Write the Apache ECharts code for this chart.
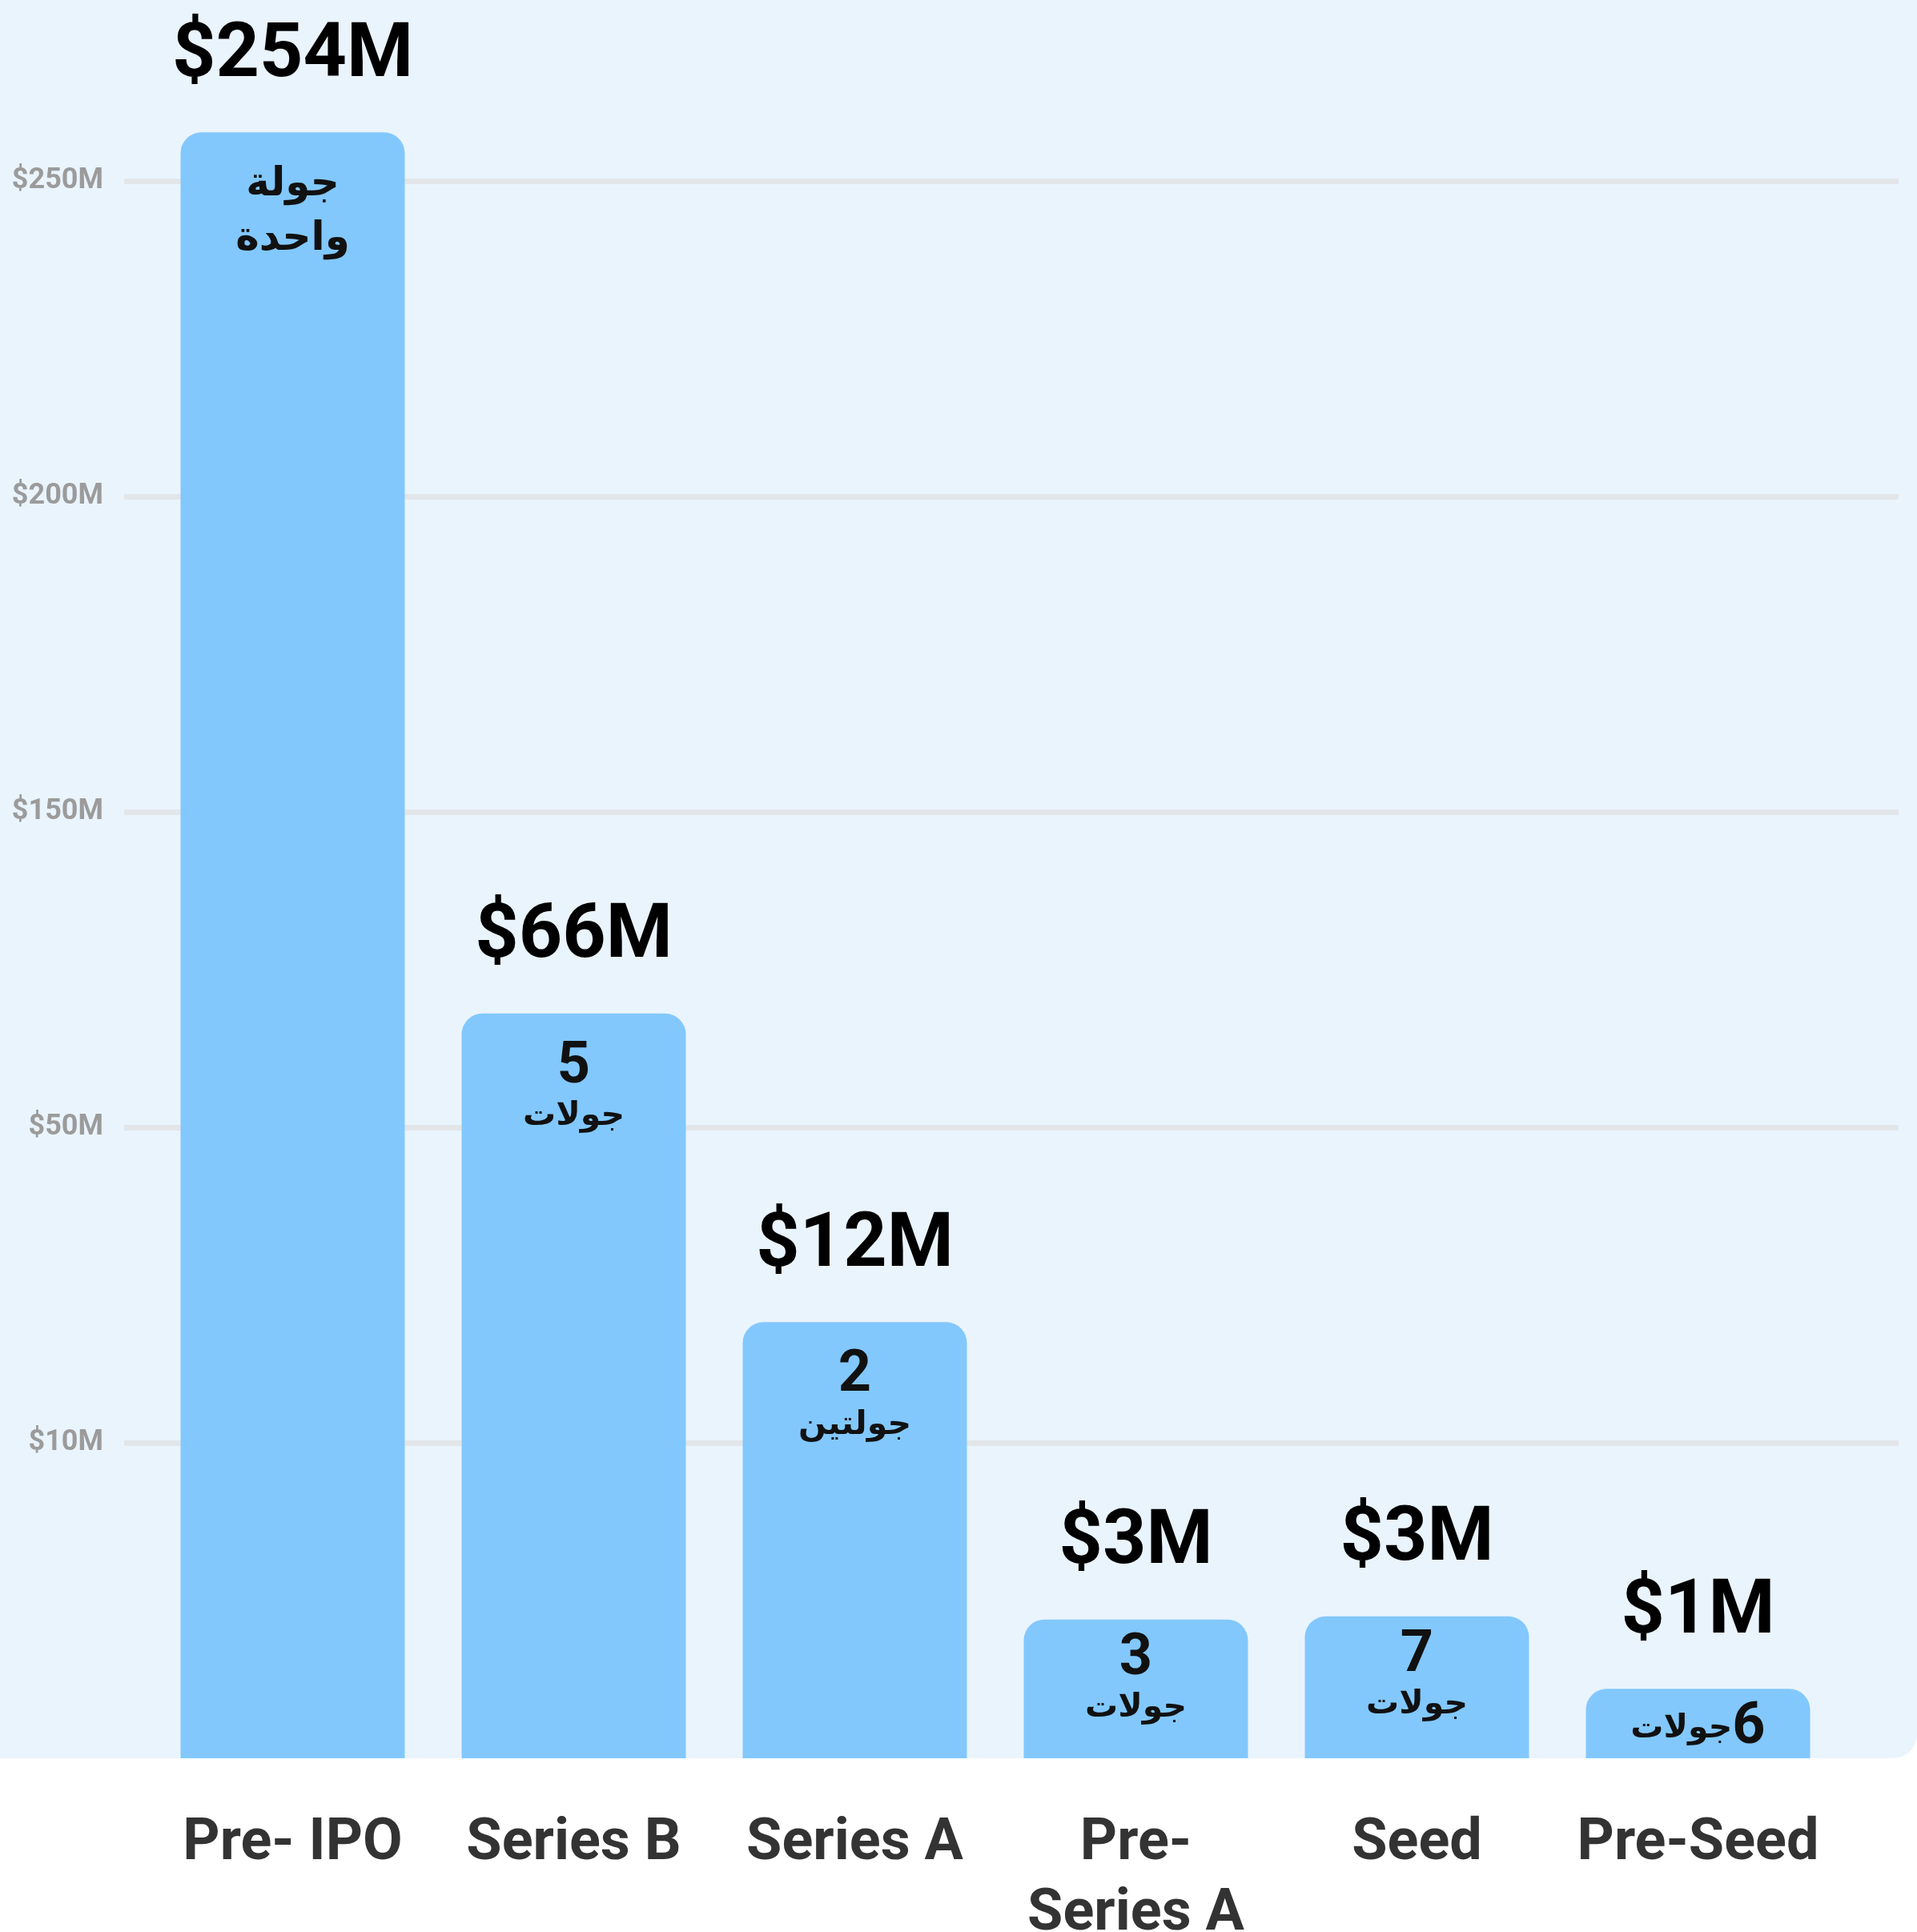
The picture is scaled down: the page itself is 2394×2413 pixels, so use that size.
<!DOCTYPE html>
<html>
<head>
<meta charset="utf-8">
<script src="https://cdn.jsdelivr.net/npm/echarts@6/dist/echarts.min.js"></script>
<style>
  html, body { margin: 0; padding: 0; background: #fff; }
  #chart { width: 2394px; height: 2413px; }
</style>
</head>
<body>
<div id="chart"></div>
<script>
// categories (funding stage)
var stages = ['Pre- IPO', 'Series B', 'Series A', 'Pre-\nSeries A', 'Seed', 'Pre-Seed'];
// amount printed above each bar ($M)
var amounts = [254, 66, 12, 3, 3, 1];
// bar height read against the axis ($M)
var barValues = [257.7, 86.1, 25.3, 4.4, 4.5, 2.2];
// number of rounds and the word under it
var roundCounts = [1, 5, 2, 3, 7, 6];
var roundWords = ['جولة واحدة', 'جولات', 'جولتين', 'جولات', 'جولات', 'جولات'];
// axis ticks ($M), evenly spaced on the chart
var yTicks = [0, 10, 50, 150, 200, 250];

// piecewise scale: each tick is one step up the axis
function toLevel(v) {
  for (var i = 1; i < yTicks.length; i++) {
    if (v <= yTicks[i] || i === yTicks.length - 1) {
      return (i - 1) + (v - yTicks[i - 1]) / (yTicks[i] - yTicks[i - 1]);
    }
  }
}

var levels = barValues.map(toLevel);
var latin = 'Roboto, "DejaVu Sans", sans-serif';
var arabic = '"DejaVu Sans", sans-serif';

var chart = echarts.init(document.getElementById('chart'), null, { renderer: 'canvas' });

var option = {
  backgroundColor: '#ffffff',
  animation: false,
  textStyle: { fontFamily: latin },
  graphic: [{
    type: 'rect',
    z: -1,
    silent: true,
    shape: { x: 0, y: 0, width: 2394, height: 2196, r: [0, 0, 30, 0] },
    style: { fill: '#EAF4FD' }
  }],
  grid: [
    // gridlines + y labels
    { left: 155, right: 23, top: 29, bottom: 217, containLabel: false, outerBoundsMode: 'none' },
    // bars
    { left: 190, right: 98, top: 29, bottom: 217, containLabel: false, outerBoundsMode: 'none' }
  ],
  xAxis: [
    { type: 'value', gridIndex: 0, min: 0, max: 1, show: false },
    {
      type: 'category', gridIndex: 1, data: stages,
      axisLine: { show: false }, axisTick: { show: false },
      axisLabel: {
        interval: 0, margin: 64, fontSize: 72, fontWeight: 'bold',
        color: '#333333', lineHeight: 88, fontFamily: latin
      }
    }
  ],
  yAxis: [
    {
      type: 'value', gridIndex: 0, min: 0, max: 5.5, interval: 1,
      axisLine: { show: false }, axisTick: { show: false },
      splitLine: {
        show: true, showMinLine: false, showMaxLine: false,
        lineStyle: { color: '#E3E6E9', width: 7 }
      },
      axisLabel: {
        margin: 26, fontSize: 36, fontWeight: 'bold', color: '#9B9B9B', fontFamily: latin,
        formatter: function (v) {
          var t = yTicks[v];
          return (Number.isInteger(v) && t) ? '$' + t + 'M' : '';
        }
      }
    },
    { type: 'value', gridIndex: 1, min: 0, max: 5.5, interval: 1, show: false, splitLine: { show: false } }
  ],
  series: [
    {
      type: 'bar',
      xAxisIndex: 1, yAxisIndex: 1,
      barWidth: 280,
      silent: true,
      itemStyle: { color: '#82C8FD', borderRadius: [26, 26, 0, 0] },
      data: levels.map(function (v) {
        return { value: v, label: { distance: v < 1 ? 14 : 32 } };
      }),
      label: {
        show: true,
        position: 'insideTop',
        formatter: function (p) {
          var i = p.dataIndex;
          if (roundCounts[i] === 1) {
            return roundWords[i].split(' ').map(function (w) { return '{big|' + w + '}'; }).join('\n');
          }
          if (levels[i] < 0.3) {
            return '{w|' + roundWords[i] + '}{n|' + roundCounts[i] + '}';
          }
          return '{n|' + roundCounts[i] + '}\n{w|' + roundWords[i] + '}';
        },
        rich: {
          n: { fontSize: 72, fontWeight: 'bold', color: '#111111', lineHeight: 72, fontFamily: latin },
          w: { fontSize: 41, fontWeight: 'bold', color: '#111111', lineHeight: 50, fontFamily: arabic },
          big: { fontSize: 50, fontWeight: 'bold', color: '#111111', lineHeight: 68, fontFamily: arabic }
        }
      }
    },
    {
      type: 'bar',
      xAxisIndex: 1, yAxisIndex: 1,
      barWidth: 280,
      barGap: '-100%',
      silent: true,
      itemStyle: { color: 'rgba(0,0,0,0)' },
      data: levels,
      label: {
        show: true,
        position: 'top',
        distance: 47,
        fontSize: 95,
        lineHeight: 95,
        fontWeight: 'bold',
        color: '#000000',
        fontFamily: latin,
        formatter: function (p) { return '$' + amounts[p.dataIndex] + 'M'; }
      }
    }
  ]
};

chart.setOption(option);
</script>
</body>
</html>
